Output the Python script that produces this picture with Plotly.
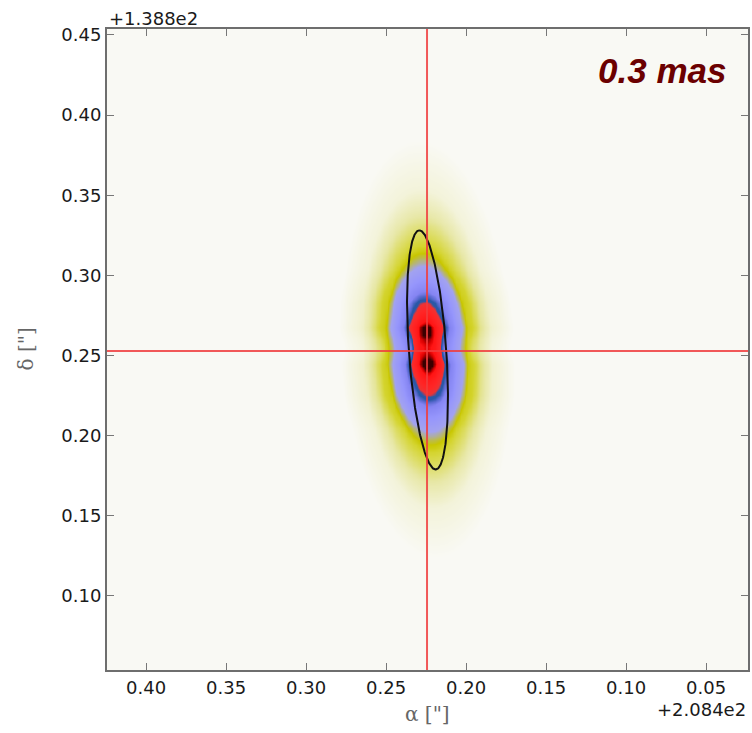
import numpy as np
import plotly.graph_objects as go

# ---- data ----
# blob centre (offsets from 208.4 / 138.8 deg)
blob_alpha0 = 0.2244
blob_delta0 = 0.2541
# radial brightness profile measured along alpha through the centre
radial_r = [0.0, 0.0044, 0.00875, 0.0100, 0.0156, 0.0206, 0.0263, 0.0344, 0.0406, 0.0563, 0.094, 1.0]
radial_z = [1.0, 0.90, 0.57, 0.50, 0.33, 0.20, 0.08, 0.04, 0.02, 0.005, 0.0, 0.0]
blob_aspect = 2.45     # delta / alpha elongation of the contours
blob_shear = 0.04      # slight tilt (top towards larger alpha)
# brightness modulation along delta (two cores)
core_dd = [-0.125, -0.05, -0.038, -0.029, -0.018, -0.0094, -0.005, 0.0006, 0.0062, 0.0131, 0.020, 0.029, 0.038, 0.05, 0.125]
core_m = [1.0, 1.0, 1.15, 1.25, 1.2, 1.2, 1.02, 0.90, 1.02, 1.28, 1.22, 1.25, 1.15, 1.0, 1.0]

# crosshair position
cross_alpha = 0.2244
cross_delta = 0.2528

# error ellipse parameters
ell_center = (0.2241, 0.2535)
ell_semi_major = 0.0748
ell_semi_minor = 0.0117
ell_tilt_deg = 4.0

x_ticks = [0.40, 0.35, 0.30, 0.25, 0.20, 0.15, 0.10, 0.05]
y_ticks = [0.10, 0.15, 0.20, 0.25, 0.30, 0.35, 0.40, 0.45]
label_text = "0.3 mas"

x_range = [0.4244, 0.0238]
y_range = [0.0538, 0.4537]

# ---- build density table from the read profiles ----
ga = np.arange(0.02, 0.43, 0.0015)
gd = np.arange(0.05, 0.46, 0.0015)
A, D = np.meshgrid(ga, gd)
dd = D - blob_delta0
da = (A - blob_alpha0) - blob_shear * dd
r = np.sqrt(da ** 2 + (dd / blob_aspect) ** 2)
z = np.interp(r, radial_r, radial_z) * np.interp(dd, core_dd, core_m)
z = np.clip(z, 0, 1)

bg = "#f9f9f4"
cscale = [
    [0.0, bg], [0.008, bg], [0.02, "#f3f3da"], [0.045, "#e6e6a0"], [0.08, "#d4d42e"],
    [0.12, "#c8c600"], [0.19, "#a2a2f0"], [0.30, "#9696fc"], [0.42, "#8484f2"],
    [0.47, "#5a6ad0"], [0.51, "#2a58a6"], [0.535, "#2a58a6"], [0.565, "#ee3232"],
    [0.62, "#ff2626"], [0.86, "#ff1414"], [0.92, "#d80000"], [0.97, "#780000"],
    [1.0, "#3a0000"],
]

fig = go.Figure()
fig.add_trace(go.Heatmap(x=ga, y=gd, z=z, zmin=0, zmax=1, colorscale=cscale,
                         zsmooth="best", showscale=False, hoverinfo="skip"))

# ellipse
t = np.linspace(0, 2 * np.pi, 361)
th = np.deg2rad(ell_tilt_deg)
ux, uy = np.sin(th), np.cos(th)
vx, vy = np.cos(th), -np.sin(th)
ex = ell_center[0] + ell_semi_major * np.cos(t) * ux + ell_semi_minor * np.sin(t) * vx
ey = ell_center[1] + ell_semi_major * np.cos(t) * uy + ell_semi_minor * np.sin(t) * vy
fig.add_trace(go.Scatter(x=ex, y=ey, mode="lines", line=dict(color="#111111", width=2),
                         hoverinfo="skip", showlegend=False))

line_col = "rgba(240,60,60,0.85)"
fig.add_vline(x=cross_alpha, line=dict(color=line_col, width=2))
fig.add_hline(y=cross_delta, line=dict(color=line_col, width=2))

axis_common = dict(showgrid=False, zeroline=False, ticks="inside", ticklen=7,
                   tickwidth=1.2, tickcolor="#777777", showline=True, linewidth=2,
                   linecolor="#6e6e6e", mirror="ticks", automargin=False,
                   tickfont=dict(family="DejaVu Sans", size=18, color="#1a1a1a"))

fig.update_xaxes(range=x_range, tickvals=x_ticks,
                 ticktext=[f"{v:.2f}" for v in x_ticks], **axis_common)
fig.update_yaxes(range=y_range, tickvals=y_ticks,
                 ticktext=[f"{v:.2f}" for v in y_ticks], **axis_common)

fig.update_layout(
    width=752, height=733, margin=dict(l=107, r=4, t=29, b=63, autoexpand=False),
    paper_bgcolor="white", plot_bgcolor=bg, showlegend=False,
    annotations=[
        dict(text="+1.388e2", xref="paper", yref="paper", x=0, y=1, xanchor="left",
             yanchor="bottom", yshift=-2, showarrow=False,
             font=dict(family="DejaVu Sans", size=18, color="#1a1a1a")),
        dict(text="+2.084e2", xref="paper", yref="paper", x=1, y=0, xanchor="right",
             yanchor="top", yshift=-27, xshift=0, showarrow=False,
             font=dict(family="DejaVu Sans", size=18, color="#1a1a1a")),
        dict(text="α [\"]", xref="paper", yref="paper", x=0.5, y=0, xanchor="center",
             yanchor="top", yshift=-30, showarrow=False,
             font=dict(family="DejaVu Serif", size=20, color="#666666")),
        dict(text="δ [\"]", xref="paper", yref="paper", x=0, y=0.5, xanchor="right",
             yanchor="middle", xshift=-68, textangle=-90, showarrow=False,
             font=dict(family="DejaVu Serif", size=20, color="#666666")),
        dict(text="<b><i>" + label_text + "</i></b>", xref="paper", yref="paper",
             x=1, y=1, xanchor="right", yanchor="top", xshift=-20, yshift=-20,
             showarrow=False,
             font=dict(family="Liberation Sans", size=35, color="#6b0000")),
    ],
)

fig.write_html("out.html", config={"displayModeBar": False},
               post_script="document.body.style.margin='0';")
